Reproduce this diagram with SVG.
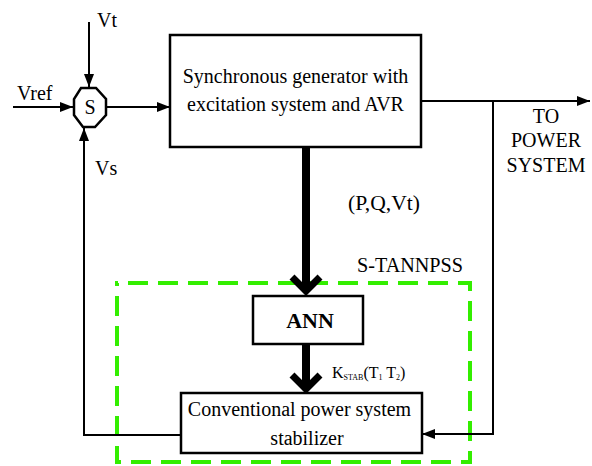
<svg xmlns="http://www.w3.org/2000/svg" width="592" height="466" viewBox="0 0 592 466">
<defs>
<style>
.ln{fill:none;stroke:#000;stroke-width:2}
.box{fill:#fff;stroke:#000;stroke-width:2.5}
.thick{fill:none;stroke:#000;stroke-width:8}
.chev{fill:none;stroke:#000;stroke-width:7;stroke-linejoin:miter;stroke-miterlimit:10}
</style>
<marker id="ah" markerUnits="userSpaceOnUse" markerWidth="13" markerHeight="10" refX="13" refY="5" orient="auto">
<path d="M0,0 L13,5 L0,10 z" fill="#000"/>
</marker>
</defs>
<rect width="592" height="466" fill="#fff"/>
<g font-family="'Liberation Serif', 'Times New Roman', serif" font-size="20" fill="#000">
<g id="group-boundary">
<rect x="117" y="283" width="353" height="179" fill="none" stroke="#33ee00" stroke-width="4" stroke-dasharray="20 10" stroke-dashoffset="-11"/>
<text x="357" y="272" textLength="106" lengthAdjust="spacingAndGlyphs">S-TANNPSS</text>
</g>
<g id="connectors">
<line class="ln" x1="89" y1="22" x2="89" y2="87" marker-end="url(#ah)"/>
<line class="ln" x1="13" y1="107" x2="73" y2="107" marker-end="url(#ah)"/>
<line class="ln" x1="107" y1="107" x2="170" y2="107" marker-end="url(#ah)"/>
<line class="ln" x1="421" y1="101" x2="590" y2="101" marker-end="url(#ah)"/>
<polyline class="ln" points="493,101 493,434 422,434" marker-end="url(#ah)"/>
<polyline class="ln" points="181,435 84,435 84,128" marker-end="url(#ah)"/>
<line class="thick" x1="306" y1="147" x2="306" y2="289"/>
<polyline class="chev" points="292,277 306,291 320,277"/>
<line class="thick" x1="306" y1="344" x2="306" y2="388"/>
<polyline class="chev" points="292,375 306,389 320,375"/>
<text x="17" y="100">Vref</text>
<text x="97" y="27">Vt</text>
<text x="95" y="175">Vs</text>
<text x="348" y="210" textLength="72" lengthAdjust="spacingAndGlyphs">(P,Q,Vt)</text>
<text x="546" y="123" text-anchor="middle">TO</text>
<text x="546" y="147" text-anchor="middle">POWER</text>
<text x="546" y="172" text-anchor="middle">SYSTEM</text>
<text x="332" y="378" font-size="16">K<tspan font-size="8" dy="2">STAB</tspan><tspan dy="-2">(T</tspan><tspan font-size="8" dy="2">1</tspan><tspan dy="-2"> T</tspan><tspan font-size="8" dy="2">2</tspan><tspan dy="-2">)</tspan></text>
</g>
<g id="sum">
<polygon points="81,88 96,88 106,99 106,115 95,127 83,127 74,115 74,99" fill="#fff" stroke="#000" stroke-width="2.5"/>
<text x="90" y="114" text-anchor="middle">S</text>
</g>
<g id="generator">
<rect class="box" x="170" y="35" width="251" height="112"/>
<text x="295.5" y="83" text-anchor="middle">Synchronous generator with</text>
<text x="295.5" y="111" text-anchor="middle">excitation system and AVR</text>
</g>
<g id="ann">
<rect class="box" x="253" y="296" width="110" height="48"/>
<text x="310" y="328" text-anchor="middle" font-weight="bold" font-size="22">ANN</text>
</g>
<g id="cpss">
<rect class="box" x="181" y="393" width="241" height="60"/>
<text x="299.5" y="416" text-anchor="middle">Conventional power system</text>
<text x="307" y="445" text-anchor="middle">stabilizer</text>
</g>
</g>
</svg>
